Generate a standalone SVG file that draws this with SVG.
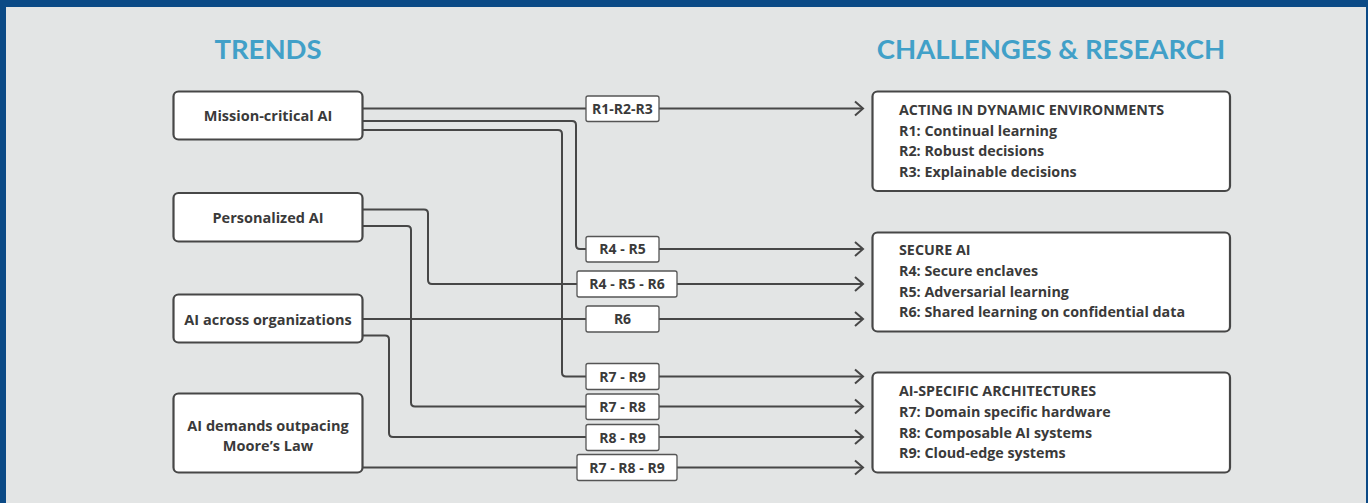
<svg xmlns="http://www.w3.org/2000/svg" width="1368" height="503" viewBox="0 0 1368 503">
<style>
.bg{fill:#e3e5e5}
.frame{fill:#0b4a86}
.title{font-family:Lato,"Liberation Sans",sans-serif;font-weight:700;font-size:27.5px;fill:#41a0c8;text-anchor:middle}
.node{fill:#ffffff;stroke:#474747;stroke-width:2.2}
.ntext{font-family:"Open Sans","Liberation Sans",sans-serif;font-weight:700;font-size:14.5px;fill:#3a3a3a;text-anchor:middle}
.rtext{font-family:"Open Sans","Liberation Sans",sans-serif;font-weight:700;font-size:14.3px;fill:#3a3a3a}
.conn{fill:none;stroke:#474747;stroke-width:2}
.lbl{fill:#ffffff;stroke:#555555;stroke-width:1.3}
.ltext{font-family:"Open Sans","Liberation Sans",sans-serif;font-weight:700;font-size:14px;fill:#3a3a3a;text-anchor:middle}
</style>
<defs>
<marker id="arr" markerUnits="userSpaceOnUse" markerWidth="14" markerHeight="18" refX="10" refY="9" orient="auto">
<path d="M2,2 L10,9 L2,16" fill="none" stroke="#474747" stroke-width="2" stroke-linejoin="miter"/>
</marker>
</defs>
<rect class="frame" x="0" y="0" width="1368" height="503"/>
<rect class="bg" x="6" y="7" width="1360" height="496"/>
<text class="title" x="268" y="59">TRENDS</text>
<text class="title" x="1051" y="59">CHALLENGES &amp; RESEARCH</text>
<g id="connectors">
<path class="conn" marker-end="url(#arr)" d="M362,108.5 H863"/>
<path class="conn" marker-end="url(#arr)" d="M362,121 H572 Q576,121 576,125 V245 Q576,249 580,249 H863"/>
<path class="conn" marker-end="url(#arr)" d="M362,130 H558 Q562,130 562,134 V372.5 Q562,376.5 566,376.5 H863"/>
<path class="conn" marker-end="url(#arr)" d="M362,209.5 H424 Q428,209.5 428,213.5 V280 Q428,284 432,284 H863"/>
<path class="conn" marker-end="url(#arr)" d="M362,226 H407 Q411,226 411,230 V402.5 Q411,406.5 415,406.5 H863"/>
<path class="conn" marker-end="url(#arr)" d="M362,319 H863"/>
<path class="conn" marker-end="url(#arr)" d="M362,335.5 H385 Q389,335.5 389,339.5 V433 Q389,437 393,437 H863"/>
<path class="conn" marker-end="url(#arr)" d="M362,467.5 H863"/>
</g>
<g id="labels">
<g id="l1"><rect class="lbl" x="586" y="96" width="73" height="25.5" rx="2"/><text class="ltext" x="622.5" y="113.8">R1-R2-R3</text></g>
<g id="l2"><rect class="lbl" x="586" y="236.5" width="73" height="25.5" rx="2"/><text class="ltext" x="622.5" y="254.3">R4 - R5</text></g>
<g id="l3"><rect class="lbl" x="577" y="271" width="100" height="26" rx="2"/><text class="ltext" x="627" y="289">R4 - R5 - R6</text></g>
<g id="l4"><rect class="lbl" x="586" y="306" width="73" height="26" rx="2"/><text class="ltext" x="622.5" y="324">R6</text></g>
<g id="l5"><rect class="lbl" x="586" y="363.5" width="73" height="26" rx="2"/><text class="ltext" x="622.5" y="381.5">R7 - R9</text></g>
<g id="l6"><rect class="lbl" x="586" y="394" width="73" height="25.5" rx="2"/><text class="ltext" x="622.5" y="411.8">R7 - R8</text></g>
<g id="l7"><rect class="lbl" x="586" y="424.5" width="73" height="26" rx="2"/><text class="ltext" x="622.5" y="442.5">R8 - R9</text></g>
<g id="l8"><rect class="lbl" x="577" y="454.5" width="100" height="26" rx="2"/><text class="ltext" x="627" y="472.5">R7 - R8 - R9</text></g>
</g>
<g id="mission">
<rect class="node" x="173.5" y="91.5" width="189" height="48" rx="5"/>
<text class="ntext" x="268" y="121">Mission-critical AI</text>
</g>
<g id="personalized">
<rect class="node" x="173.5" y="193" width="189" height="48.5" rx="5"/>
<text class="ntext" x="268" y="222.5">Personalized AI</text>
</g>
<g id="across">
<rect class="node" x="173.5" y="294.5" width="189" height="48" rx="5"/>
<text class="ntext" x="268" y="325">AI across organizations</text>
</g>
<g id="moore">
<rect class="node" x="173.5" y="393.5" width="189" height="79" rx="5"/>
<text class="ntext" x="268" y="431">AI demands outpacing</text>
<text class="ntext" x="268" y="451">Moore’s Law</text>
</g>
<g id="dynamic">
<rect class="node" x="872.5" y="91.5" width="357.5" height="99.5" rx="5"/>
<text class="rtext" x="899" y="114.5">ACTING IN DYNAMIC ENVIRONMENTS</text>
<text class="rtext" x="899" y="135.5">R1: Continual learning</text>
<text class="rtext" x="899" y="156">R2: Robust decisions</text>
<text class="rtext" x="899" y="176.5">R3: Explainable decisions</text>
</g>
<g id="secure">
<rect class="node" x="872.5" y="232.5" width="357.5" height="99" rx="5"/>
<text class="rtext" x="899" y="255">SECURE AI</text>
<text class="rtext" x="899" y="276">R4: Secure enclaves</text>
<text class="rtext" x="899" y="296.5">R5: Adversarial learning</text>
<text class="rtext" x="899" y="317">R6: Shared learning on confidential data</text>
</g>
<g id="architectures">
<rect class="node" x="872.5" y="372.5" width="357.5" height="100" rx="5"/>
<text class="rtext" x="899" y="395.5">AI-SPECIFIC ARCHITECTURES</text>
<text class="rtext" x="899" y="417">R7: Domain specific hardware</text>
<text class="rtext" x="899" y="437.5">R8: Composable AI systems</text>
<text class="rtext" x="899" y="458">R9: Cloud-edge systems</text>
</g>
</svg>
